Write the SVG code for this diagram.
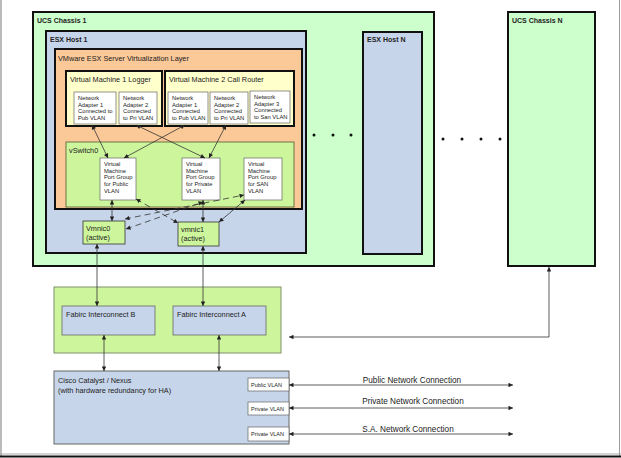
<svg xmlns="http://www.w3.org/2000/svg" width="621" height="458" viewBox="0 0 621 458">
<defs>
<marker id="ah" viewBox="0 0 6 6" refX="6" refY="3" markerWidth="5" markerHeight="4.5" markerUnits="userSpaceOnUse" orient="auto-start-reverse"><path d="M0,0 L6,3 L0,6 z" fill="#222"/></marker>
</defs>
<style>
text{font-family:"Liberation Sans",Arial,sans-serif;fill:#222;}
.t{font-size:7.3px;}
.b{font-size:7px;font-weight:bold;}
.s{font-size:5.8px;}
.xs{font-size:5.5px;}
.big{font-size:8.2px;}
.thick{stroke:#111;stroke-width:2;}
.wb{fill:#fff;stroke:#666;stroke-width:0.7;}
.c{stroke:#333;stroke-width:0.8;fill:none;marker-start:url(#ah);marker-end:url(#ah);}
.d{stroke-dasharray:6 4;}
.blue{fill:#c6d5ea;}
.lg{fill:#ccffcc;}
.yg{fill:#cdf69c;}
</style>
<rect width="621" height="458" fill="#fff"/>
<g id="frame" fill="none">
<line x1="1" y1="0" x2="1" y2="456" stroke="#777" stroke-width="1"/>
<line x1="619.5" y1="0" x2="619.5" y2="456" stroke="#999" stroke-width="1"/>
<line x1="0" y1="454" x2="621" y2="454" stroke="#aaa" stroke-width="1"/>
<line x1="0" y1="456.5" x2="621" y2="456.5" stroke="#111" stroke-width="2"/>
</g>
<g id="chassis1"><rect x="33" y="12" width="401" height="254" class="lg thick"/><text x="37" y="23" class="b">UCS Chassis 1</text></g>
<g id="esxhost1"><rect x="46" y="31" width="260" height="222" class="blue thick"/><text x="50" y="42" class="b">ESX Host 1</text></g>
<g id="vmware"><rect x="55" y="49" width="247" height="160" fill="#fbc898" class="thick"/><text x="58" y="61" class="t">VMware ESX Server Virtualization Layer</text></g>
<g id="vm1"><rect x="66" y="71" width="96" height="55" fill="#ffffcc" class="thick"/><text x="70" y="82" class="t">Virtual Machine 1 Logger</text></g>
<g id="vm2"><rect x="165" y="71" width="129" height="55" fill="#ffffcc" class="thick"/><text x="169" y="82" class="t">Virtual Machine 2 Call Router</text></g>
<g id="vm1-adapter1"><rect x="74" y="92" width="42" height="32" class="wb"/><text class="s"><tspan x="78" y="100">Network</tspan><tspan x="78" y="106.7">Adapter 1</tspan><tspan x="78" y="113.4">Connected to</tspan><tspan x="78" y="120">Pub VLAN</tspan></text></g>
<g id="vm1-adapter2"><rect x="119" y="92" width="38" height="32" class="wb"/><text class="s"><tspan x="123" y="100">Network</tspan><tspan x="123" y="106.7">Adapter 2</tspan><tspan x="123" y="113.4">Connected</tspan><tspan x="123" y="120">to Pri VLAN</tspan></text></g>
<g id="vm2-adapter1"><rect x="168" y="92" width="40" height="32" class="wb"/><text class="s"><tspan x="172" y="100">Network</tspan><tspan x="172" y="106.7">Adapter 1</tspan><tspan x="172" y="113.4">Connected</tspan><tspan x="172" y="120">to Pub VLAN</tspan></text></g>
<g id="vm2-adapter2"><rect x="210" y="92" width="38" height="32" class="wb"/><text class="s"><tspan x="214" y="100">Network</tspan><tspan x="214" y="106.7">Adapter 2</tspan><tspan x="214" y="113.4">Connected</tspan><tspan x="214" y="120">to Pri VLAN</tspan></text></g>
<g id="vm2-adapter3"><rect x="250" y="91" width="40" height="32" class="wb"/><text class="s"><tspan x="254" y="99">Network</tspan><tspan x="254" y="105.7">Adapter 3</tspan><tspan x="254" y="112.4">Connected</tspan><tspan x="254" y="119">to San VLAN</tspan></text></g>
<g id="vswitch0"><rect x="66" y="142" width="228" height="65" class="yg" stroke="#4a5a30" stroke-width="0.8"/><text x="69" y="153" class="t">vSwitch0</text></g>
<g id="pg-public"><rect x="100" y="158" width="36" height="42" class="wb"/><text class="s"><tspan x="104" y="166">Virtual</tspan><tspan x="104" y="172.7">Machine</tspan><tspan x="104" y="179.4">Port Group</tspan><tspan x="104" y="186.1">for Public</tspan><tspan x="104" y="192.8">VLAN</tspan></text></g>
<g id="pg-private"><rect x="182" y="158" width="38" height="42" class="wb"/><text class="s"><tspan x="186" y="166">Virtual</tspan><tspan x="186" y="172.7">Machine</tspan><tspan x="186" y="179.4">Port Group</tspan><tspan x="186" y="186.1">for Private</tspan><tspan x="186" y="192.8">VLAN</tspan></text></g>
<g id="pg-san"><rect x="244" y="158" width="38" height="42" class="wb"/><text class="s"><tspan x="248" y="166">Virtual</tspan><tspan x="248" y="172.7">Machine</tspan><tspan x="248" y="179.4">Port Group</tspan><tspan x="248" y="186.1">for SAN</tspan><tspan x="248" y="192.8">VLAN</tspan></text></g>
<g id="vmnic0"><rect x="83" y="221" width="42" height="23" class="yg" stroke="#333" stroke-width="0.8"/><text x="86" y="231" class="t">Vmnic0</text><text x="86" y="240" class="t">(active)</text></g>
<g id="vmnic1"><rect x="178" y="222" width="41" height="24" class="yg" stroke="#333" stroke-width="0.8"/><text x="181" y="232" class="t">vmnic1</text><text x="181" y="241" class="t">(active)</text></g>
<g id="esxhostN"><rect x="363" y="32" width="59" height="222" class="blue thick"/><text x="367" y="42" class="b">ESX Host N</text></g>
<g id="chassisN"><rect x="508" y="12" width="87" height="254" class="lg thick"/><text x="512" y="23" class="b">UCS Chassis N</text></g>
<g id="ellipses" fill="#111"><circle cx="314" cy="135" r="1.5"/><circle cx="333" cy="135" r="1.5"/><circle cx="351" cy="135" r="1.5"/><circle cx="443" cy="139" r="1.5"/><circle cx="462" cy="139" r="1.5"/><circle cx="481" cy="139" r="1.5"/><circle cx="500" cy="139" r="1.5"/></g>
<g id="fabric"><rect x="54" y="287" width="227" height="66" class="yg" stroke="#7f8f6f" stroke-width="1"/></g>
<g id="fabric-b"><rect x="62" y="306" width="93" height="29" class="blue" stroke="#666" stroke-width="0.8"/><text x="66" y="317" class="t">Fabirc Interconnect B</text></g>
<g id="fabric-a"><rect x="173" y="306" width="93" height="29" class="blue" stroke="#666" stroke-width="0.8"/><text x="177" y="317" class="t">Fabirc Interconnect A</text></g>
<g id="catalyst"><rect x="54" y="371" width="235" height="73" class="blue" stroke="#666" stroke-width="1"/><text x="58" y="383" class="t">Cisco Catalyst / Nexus</text><text x="58" y="393" class="t">(with hardware redundancy for HA)</text></g>
<g id="vlan-public"><rect x="248" y="378" width="41" height="13" class="wb"/><text x="251" y="386.5" class="xs">Public VLAN</text></g>
<g id="vlan-private"><rect x="248" y="402" width="41" height="13" class="wb"/><text x="251" y="410.5" class="xs">Private VLAN</text></g>
<g id="vlan-sa"><rect x="248" y="427" width="41" height="14" class="wb"/><text x="251" y="436" class="xs">Private VLAN</text></g>
<g id="connectors">
<line x1="92" y1="125" x2="108" y2="158" class="c"/>
<line x1="136" y1="125" x2="205" y2="158" class="c"/>
<line x1="185" y1="125" x2="124" y2="158" class="c"/>
<line x1="226" y1="125" x2="209" y2="158" class="c"/>
<line x1="112" y1="200" x2="112" y2="221" class="c"/>
<line x1="203" y1="200" x2="203" y2="222" class="c"/>
<line x1="245" y1="200" x2="219" y2="222" class="c"/>
<line x1="136" y1="199" x2="178" y2="223" class="c d"/>
<line x1="125" y1="219" x2="244" y2="195" class="c d"/>
<line x1="126" y1="229" x2="203" y2="202" class="c d"/>
<line x1="97" y1="244" x2="97" y2="306" class="c"/>
<line x1="203" y1="246" x2="203" y2="306" class="c"/>
<line x1="104" y1="335" x2="104" y2="371" class="c"/>
<line x1="219" y1="335" x2="219" y2="371" class="c"/>
<path d="M549,267 V337 H289" class="c" stroke="#666"/>
<line x1="289" y1="385" x2="513" y2="385" class="c"/>
<line x1="289" y1="408" x2="513" y2="408" class="c"/>
<line x1="289" y1="434" x2="513" y2="434" class="c"/>
<text x="412" y="383" class="big" text-anchor="middle">Public Network Connection</text>
<text x="413" y="404" class="big" text-anchor="middle">Private Network Connection</text>
<text x="408" y="432" class="big" text-anchor="middle">S.A. Network Connection</text>
</g>
</svg>
